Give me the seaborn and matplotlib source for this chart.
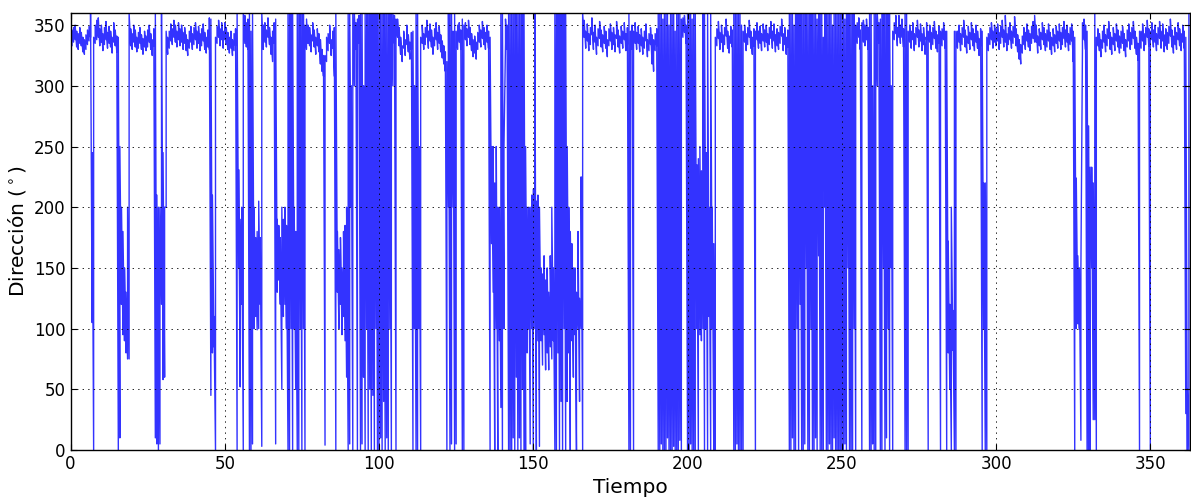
import numpy as np
import pandas as pd
import matplotlib
matplotlib.use("Agg")
import matplotlib.pyplot as plt
import seaborn as sns

# Direction readings (degrees): for each 0.5-unit time bin, the (lowest, highest) value seen.
# One list per 25-unit block of time.
seg_000 = [(330, 342), (333, 346), (336, 348), (338, 350), (332, 345), (330, 343), (335, 348), (333, 344),
           (328, 340), (326, 338), (330, 342), (334, 346), (337, 349),
           (340, 360), (105, 245), (0, 340),
           (335, 350), (338, 354), (340, 356), (333, 347), (336, 350), (329, 343), (334, 348), (338, 353),
           (331, 344), (335, 349), (332, 345), (327, 340), (336, 352), (333, 346), (328, 341),
           (0, 340), (10, 250), (120, 200), (95, 180), (90, 150), (80, 130), (75, 200), (75, 360),
           (333, 347), (330, 343), (336, 350), (332, 346), (328, 340), (331, 344), (335, 348), (330, 342),
           (326, 339), (332, 345), (329, 341)]
seg_025 = [(332, 346), (336, 350), (330, 343), (325, 338), (333, 347),
           (10, 360), (5, 210), (0, 200), (5, 200), (120, 360), (58, 245), (60, 200), (200, 345),
           (326, 340), (331, 345), (337, 351), (334, 347), (340, 354), (336, 350), (332, 345), (338, 352),
           (333, 347), (336, 350), (330, 344), (335, 348), (329, 342), (325, 338), (331, 345), (336, 349),
           (330, 343), (334, 348), (338, 352), (331, 345), (335, 349), (329, 343), (333, 347), (337, 351),
           (330, 344), (327, 340), (332, 346), (330, 356),
           (45, 355), (80, 210), (85, 110), (0, 340),
           (335, 349), (340, 354), (333, 347), (338, 352), (331, 345)]
seg_050 = [(338, 352), (334, 348), (330, 344), (327, 340), (331, 345), (325, 338), (329, 343), (333, 347),
           (0, 360), (150, 231), (52, 190), (120, 200), (0, 360), (335, 358), (332, 352), (330, 355),
           (0, 360), (0, 345), (5, 360), (100, 200), (110, 175), (99, 180), (100, 205), (120, 175),
           (3, 360), (330, 350), (336, 352),
           (332, 346), (340, 356), (334, 348), (326, 340), (320, 345), (335, 352),
           (5, 355), (130, 190), (140, 185), (120, 175), (50, 200), (110, 190), (120, 200), (100, 185),
           (0, 360), (0, 360), (100, 360), (0, 360), (100, 200), (50, 180), (0, 360), (0, 360), (100, 360)]
seg_075 = [(0, 360), (100, 360), (0, 350), (330, 355), (335, 350),
           (333, 348), (328, 342), (337, 352), (332, 346), (326, 340), (333, 347), (328, 343), (318, 338),
           (312, 330), (308, 325),
           (4, 325), (320, 340),
           (329, 343), (335, 350), (325, 338), (331, 345), (308, 348),
           (0, 360),
           (130, 180), (100, 165), (120, 175), (95, 150), (110, 180), (90, 185), (60, 200),
           (0, 360), (5, 360), (200, 300), (0, 360), (300, 360),
           (330, 352), (0, 355), (335, 358), (0, 360), (5, 360), (60, 300), (0, 360), (100, 360),
           (0, 360), (50, 360), (0, 360), (45, 360), (0, 360), (100, 360), (0, 360)]
seg_100 = [(0, 360), (10, 360), (0, 360), (40, 360), (0, 360), (10, 360), (0, 360), (100, 360),
           (0, 360), (300, 360), (335, 358), (0, 355),
           (340, 355), (333, 348), (326, 340), (320, 333), (331, 345), (325, 338), (334, 350), (328, 342),
           (322, 336), (330, 344),
           (0, 345), (100, 300), (0, 360), (0, 360), (100, 250), (0, 340), (335, 350),
           (330, 343), (334, 348), (340, 354), (331, 345), (337, 351), (332, 346), (326, 340), (333, 347),
           (338, 352), (330, 344), (335, 349), (328, 342), (323, 337), (318, 333), (312, 328),
           (0, 320), (200, 360), (0, 360), (5, 360), (200, 345), (0, 360)]
seg_125 = [(5, 345), (330, 350), (336, 352), (330, 346), (0, 355), (0, 350),
           (338, 352), (333, 347), (340, 354), (334, 348), (329, 343), (324, 338), (327, 341), (322, 336),
           (330, 344), (336, 350), (332, 346), (339, 353), (334, 348), (330, 344), (336, 350), (331, 345),
           (0, 340), (170, 250), (130, 250), (0, 220), (100, 250), (0, 200), (90, 200), (35, 360),
           (0, 360), (100, 250), (335, 355), (330, 350), (0, 360), (0, 360),
           (0, 360), (10, 360), (0, 360), (60, 360), (0, 360), (10, 360), (0, 360), (50, 360),
           (0, 360), (0, 250),
           (80, 200), (100, 200), (5, 200), (100, 210)]
seg_150 = [(0, 215), (100, 360), (0, 205), (90, 210), (3, 200),
           (90, 150), (70, 145), (95, 160), (66, 140), (80, 150), (66, 130), (85, 160), (75, 200), (90, 150),
           (0, 360), (0, 360), (80, 360), (0, 360), (40, 360), (0, 360), (100, 360), (0, 360), (40, 250),
           (80, 200),
           (0, 180), (90, 170), (60, 150), (95, 150), (0, 130), (100, 180), (40, 125), (100, 225),
           (0, 360),
           (340, 354), (331, 345), (337, 351), (329, 343), (334, 348), (342, 356), (330, 344), (336, 350),
           (326, 340), (333, 347), (339, 353), (332, 346), (328, 342), (335, 349), (331, 345), (324, 338),
           (333, 347)]
seg_175 = [(337, 351), (330, 344), (334, 348), (328, 342), (339, 353), (332, 346), (327, 341), (335, 349),
           (331, 345), (338, 352), (329, 343), (334, 348),
           (0, 360), (0, 345), (330, 350), (0, 345), (335, 352),
           (330, 344), (335, 349), (328, 342), (333, 347), (326, 340), (331, 345), (337, 351), (324, 338),
           (329, 343), (334, 348), (318, 342), (312, 338), (329, 343), (333, 347),
           (0, 360), (0, 360), (5, 360), (0, 355), (0, 360), (0, 360), (10, 360), (0, 350),
           (0, 360), (0, 360), (3, 360), (0, 345), (0, 360), (0, 360), (8, 360), (0, 355),
           (340, 356), (344, 358), (335, 350)]
seg_200 = [(0, 360), (0, 360), (5, 360), (0, 355), (0, 360), (0, 360),
           (100, 235), (0, 240), (95, 250), (90, 230), (100, 360), (0, 360), (100, 245), (0, 360),
           (110, 200), (0, 360), (100, 200), (0, 170), (0, 340),
           (333, 347), (339, 353), (330, 344), (336, 350), (328, 342), (334, 348), (341, 355), (331, 345),
           (327, 341), (335, 349), (332, 346),
           (0, 360), (0, 360), (5, 360), (0, 360), (0, 360), (0, 350), (0, 345),
           (336, 350), (329, 343), (334, 348), (340, 354), (331, 345), (326, 340), (333, 347),
           (0, 345),
           (338, 352), (331, 345), (335, 349), (329, 343), (337, 351)]
seg_225 = [(332, 346), (336, 350), (329, 343), (334, 348), (339, 353), (331, 345), (337, 351), (328, 342),
           (333, 347), (330, 344), (335, 349), (341, 355), (329, 343), (334, 348), (326, 340), (332, 346),
           (0, 360), (0, 360), (10, 360), (0, 350), (0, 360), (100, 360), (0, 360), (120, 360),
           (0, 360), (0, 360), (5, 360), (150, 360), (0, 360), (0, 360), (100, 360), (0, 360),
           (0, 360), (10, 360), (0, 355), (160, 360), (0, 360), (0, 360), (0, 340), (200, 360),
           (0, 360), (0, 360), (5, 360), (0, 360), (0, 350), (10, 360), (0, 360), (0, 360),
           (0, 360), (0, 360)]
seg_250 = [(0, 360), (0, 360), (5, 355), (0, 360), (150, 360), (0, 360), (0, 360), (0, 360),
           (100, 360), (0, 350),
           (335, 352), (340, 356), (330, 346), (0, 352), (336, 354), (333, 350), (338, 355), (330, 348),
           (0, 360), (0, 360), (5, 300), (0, 360), (0, 360), (300, 360), (335, 352), (0, 355),
           (0, 360), (150, 360), (0, 360), (10, 360), (100, 360), (0, 360), (150, 300), (0, 345),
           (338, 352), (343, 358), (333, 348), (340, 358), (335, 350), (340, 355), (332, 347),
           (0, 360), (0, 360), (0, 345),
           (336, 350), (331, 345), (338, 352), (329, 343), (334, 348), (340, 354)]
seg_275 = [(332, 346), (337, 351), (329, 343), (334, 348), (326, 340), (338, 352),
           (0, 345),
           (336, 350), (330, 344), (334, 348), (339, 353), (331, 345), (328, 342), (335, 349),
           (0, 345),
           (333, 347), (338, 352), (331, 345),
           (0, 345), (80, 172), (50, 120), (0, 200), (82, 115), (0, 345), (0, 345),
           (331, 345), (336, 350), (329, 343), (334, 348), (340, 354), (332, 346), (327, 341), (335, 349),
           (330, 344), (338, 352), (333, 347), (329, 343), (336, 350), (331, 345), (325, 339), (333, 347),
           (0, 345), (100, 220), (0, 220), (0, 340),
           (329, 343), (334, 348), (338, 352), (331, 345), (336, 350)]
seg_300 = [(333, 347), (337, 351), (330, 344), (335, 349), (340, 354), (332, 346), (336, 358), (329, 343),
           (334, 348), (338, 352), (331, 345), (335, 349), (340, 357), (333, 347), (328, 342), (322, 338),
           (318, 334), (327, 341), (334, 348), (330, 344), (337, 351), (332, 346), (329, 343), (335, 349),
           (339, 353), (336, 358), (336, 350), (327, 341), (333, 347), (330, 344), (338, 352), (334, 348),
           (329, 343), (332, 346), (337, 351), (330, 344), (326, 340), (333, 347), (328, 342), (335, 349),
           (331, 345), (337, 351), (330, 344), (334, 348), (339, 353), (332, 346), (336, 350), (329, 343),
           (334, 348), (337, 351)]
seg_325 = [(320, 345), (0, 340), (100, 224), (104, 160), (100, 150), (8, 150), (330, 352), (338, 355),
           (330, 350), (0, 345), (0, 267), (0, 233), (150, 233), (25, 220), (25, 360), (0, 340),
           (333, 347), (329, 343), (324, 338), (331, 345), (336, 350), (328, 342), (333, 347), (339, 353),
           (330, 344), (326, 340), (334, 348), (329, 343), (337, 351), (332, 346), (327, 341), (331, 345),
           (335, 349), (329, 343), (324, 338), (332, 346), (337, 351), (330, 344), (334, 348), (339, 353),
           (331, 345), (326, 340), (321, 335),
           (0, 345),
           (331, 345), (337, 351), (329, 343), (334, 348), (340, 354), (333, 347)]
seg_350 = [(0, 345), (338, 352),
           (332, 346), (336, 350), (329, 343), (334, 348), (339, 353), (331, 345), (337, 351), (328, 342),
           (333, 347), (330, 344), (335, 349), (341, 355), (332, 346), (327, 341), (334, 348), (330, 344),
           (338, 352), (333, 347), (329, 343), (336, 350), (331, 345),
           (30, 340), (0, 50), (0, 360)]

seg_starts = [0, 25, 50, 75, 100, 125, 150, 175, 200, 225, 250, 275, 300, 325, 350]
segments = [seg_000, seg_025, seg_050, seg_075, seg_100, seg_125, seg_150, seg_175,
            seg_200, seg_225, seg_250, seg_275, seg_300, seg_325, seg_350]
bin_width = 0.5

x_ticks = [0, 50, 100, 150, 200, 250, 300, 350]
y_ticks = [0, 50, 100, 150, 200, 250, 300, 350]

rows = []
for start, seg in zip(seg_starts, segments):
    for i, (lo, hi) in enumerate(seg):
        t = start + bin_width * i
        rows.append((t, lo))
        rows.append((t, hi))
df = pd.DataFrame(rows, columns=["Tiempo", "Direccion"])

plt.rcParams.update({
    "font.family": ["DejaVu Sans"],
    "font.size": 12,
    "xtick.direction": "in",
    "ytick.direction": "in",
    "xtick.top": True,
    "ytick.right": True,
    "xtick.major.size": 4,
    "ytick.major.size": 4,
    "axes.linewidth": 1.0,
    "lines.scale_dashes": False,
    "mathtext.fontset": "dejavusans",
})

W, H = 1191, 498
fig = plt.figure(figsize=(W / 100, H / 100), dpi=100)
ax = fig.add_axes([70.5 / W, 48 / H, 1119 / W, 437 / H])

sns.lineplot(data=df, x="Tiempo", y="Direccion", color="#3333ff", linewidth=1.0,
             estimator=None, sort=True, ax=ax)

ax.set_xlim(0, 362.7)
ax.set_ylim(0, 360)
ax.set_xticks(x_ticks)
ax.set_yticks(y_ticks)
ax.grid(True, color="k", linestyle=(0, (1, 3)), linewidth=0.6)
ax.set_axisbelow(False)
ax.set_xlabel("Tiempo", fontsize=14.5)
ax.set_ylabel("Dirección ($^\\circ$)", fontsize=14.5)
for sp in ax.spines.values():
    sp.set_color("k")

fig.savefig("out.png", dpi=100, facecolor="white")
